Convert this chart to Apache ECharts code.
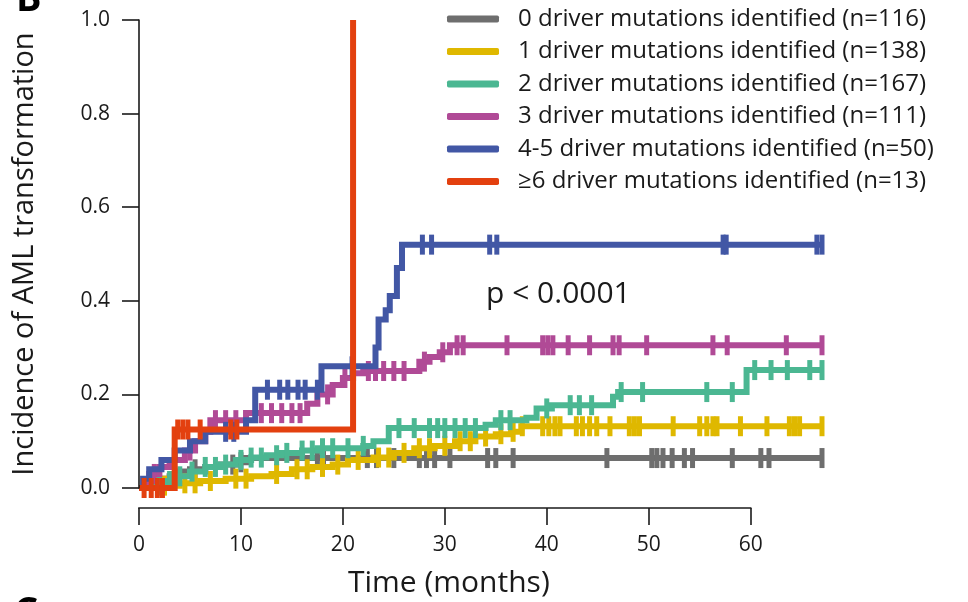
<!DOCTYPE html>
<html><head><meta charset="utf-8">
<script src="https://cdn.jsdelivr.net/npm/echarts@6/dist/echarts.min.js"></script>
<style>html,body{margin:0;padding:0;background:#fff}#c{width:968px;height:602px}</style>
</head><body><div id="c"></div>
<script>
// ---- data ----
const groupNames = [
  '0 driver mutations identified (n=116)',
  '1 driver mutations identified (n=138)',
  '2 driver mutations identified (n=167)',
  '3 driver mutations identified (n=111)',
  '4-5 driver mutations identified (n=50)',
  '\u22656 driver mutations identified (n=13)'
];
const groupColors = ['#6e6e6e', '#dfb800', '#4bb792', '#b04a96', '#4257a5', '#e3400f'];

// step times (months) and cumulative incidence after each step
const time0 = [0, 1, 2, 3, 4, 5, 6.5, 8, 9.5, 10.5, 67];
const inc0  = [0, 0.01, 0.02, 0.025, 0.035, 0.04, 0.045, 0.05, 0.055, 0.064, 0.064];
const cens0 = [5.5, 9.2, 10, 17.5, 18.1, 22.4, 23.3, 25, 27.5, 28.2, 29, 30.5, 34.2, 35, 36.7, 45.9, 50.3, 50.8, 51.4, 52.3, 53.5, 54.3, 58.2, 61, 61.8, 67];

const time1 = [0, 2, 4, 6, 8.5, 11, 13, 15, 17, 19, 20.5, 23, 25, 27, 29, 31, 33, 35, 36.5, 37.5, 67];
const inc1  = [0, 0.005, 0.01, 0.015, 0.02, 0.025, 0.03, 0.04, 0.045, 0.05, 0.06, 0.065, 0.075, 0.085, 0.09, 0.10, 0.11, 0.115, 0.12, 0.132, 0.132];
const cens1 = [2.5, 4.5, 5.5, 7, 9.5, 10.5, 13.5, 15.5, 16.5, 18, 19.5, 21.5, 23.5, 24.5, 26, 27.5, 28.5, 30, 31.5, 32.5, 34, 35.5, 36.7, 37.6, 39.6, 40.2, 40.8, 41.3, 42.9, 43.5, 44.2, 44.9, 46.2, 48.1, 48.6, 49.1, 52.4, 55, 55.7, 56.3, 56.7, 59, 61.6, 63.8, 64.3, 64.8, 67];

const time2 = [0, 1.5, 2.5, 3.5, 5, 6.5, 8, 9.5, 11, 12.5, 14, 16, 17.5, 22, 23, 24.5, 34, 35, 38, 39, 40.5, 46.5, 47, 59.6, 67];
const inc2  = [0, 0.005, 0.015, 0.025, 0.035, 0.045, 0.05, 0.06, 0.065, 0.07, 0.075, 0.08, 0.085, 0.09, 0.10, 0.128, 0.135, 0.145, 0.15, 0.17, 0.177, 0.195, 0.205, 0.252, 0.252];
const cens2 = [2, 3, 4, 5.2, 6.5, 7.5, 8.5, 10, 11, 12, 13.5, 14.5, 16, 17, 18, 19, 20.5, 22, 25.5, 27, 28.5, 29.3, 30, 31, 32, 33, 35.5, 36.4, 40, 42.3, 43.2, 44.4, 47.3, 49.4, 55.7, 58.2, 60.4, 62, 63.6, 65.8, 67];

const time3 = [0, 0.5, 1, 2, 3, 4.5, 5.5, 6.5, 7, 10.5, 16.5, 17.5, 19, 20, 21, 22, 27.5, 28.5, 29.5, 30.5, 67];
const inc3  = [0, 0.01, 0.03, 0.045, 0.06, 0.08, 0.10, 0.12, 0.145, 0.16, 0.18, 0.20, 0.22, 0.235, 0.245, 0.25, 0.27, 0.28, 0.29, 0.305, 0.305];
const cens3 = [1.5, 3.5, 5, 7.5, 8.5, 9.5, 12, 13, 14, 15, 15.8, 18.5, 20.2, 22.5, 23.2, 24, 25, 26, 28, 29.8, 31.2, 31.8, 36.1, 39.6, 40.1, 40.6, 42.1, 44.2, 46.5, 47.1, 49.8, 56.3, 57.7, 63.5, 67];

const time4 = [0, 0.4, 1, 2.2, 3.5, 5, 6.5, 10.5, 11.4, 17.9, 23.2, 23.5, 24.2, 24.6, 25.3, 25.8, 67];
const inc4  = [0, 0.02, 0.04, 0.06, 0.08, 0.10, 0.12, 0.145, 0.21, 0.26, 0.30, 0.36, 0.38, 0.41, 0.47, 0.52, 0.52];
const cens4 = [8.5, 9.3, 12.6, 13.8, 14.6, 15.6, 16.3, 17.5, 20.9, 27.8, 28.7, 34.4, 35.1, 57.3, 57.6, 66.5, 67];

const time5 = [0, 3.5, 21];
const inc5  = [0, 0.125, 1.0];
const cens5 = [0.5, 1.2, 1.8, 2.3, 3.8, 4.3, 4.8, 6.0, 9.0, 9.6];

const xTickValues = [0, 10, 20, 30, 40, 50, 60];
const yTickValues = [0, 0.2, 0.4, 0.6, 0.8, 1.0];
const xAxisTitle = 'Time (months)';
const yAxisTitle = 'Incidence of AML transformation';
const pValueText = 'p < 0.0001';

// ---- build ----
const times = [time0, time1, time2, time3, time4, time5];
const incs = [inc0, inc1, inc2, inc3, inc4, inc5];
const cens = [cens0, cens1, cens2, cens3, cens4, cens5];

function stepValue(ts, vs, t) {
  let v = vs[0];
  for (let i = 0; i < ts.length; i++) { if (ts[i] <= t) v = vs[i]; }
  return v;
}

const FONT = '"Open Sans", "DejaVu Sans", sans-serif';
const INK = '#1a1a1a';
const X_OFFSET = 20;
const series = [];
groupNames.forEach((name, g) => {
  series.push({
    name: name,
    type: 'line',
    step: 'end',
    clip: false,
    symbol: 'none',
    silent: true,
    data: times[g].map((t, i) => [t, incs[g][i]]),
    lineStyle: { color: groupColors[g], width: 6, cap: 'butt', join: 'miter' },
    itemStyle: { color: groupColors[g] },
    z: 2 + g * 0.1
  });
  series.push({
    name: 'cens' + g,
    type: 'scatter',
    clip: false,
    silent: true,
    symbol: 'rect',
    symbolSize: [5, 20],
    data: cens[g].map(t => [t, stepValue(times[g], incs[g], t)]),
    itemStyle: { color: groupColors[g], opacity: 1 },
    z: 2 + g * 0.1 + 0.05
  });
});

const chart = echarts.init(document.getElementById('c'), null, { renderer: 'canvas' });
chart.setOption({
  animation: false,
  backgroundColor: '#ffffff',
  textStyle: { fontFamily: FONT },
  grid: { left: 139, right: 146, top: 20, bottom: 114, containLabel: false },
  xAxis: {
    type: 'value', min: 0, max: 67, offset: X_OFFSET,
    z: 5,
    axisLine: { show: true, onZero: false, lineStyle: { color: INK, width: 1.6, opacity: 0 } },
    axisTick: { show: true, inside: false, length: 17, lineStyle: { color: INK, width: 1.6 }, customValues: xTickValues },
    axisLabel: { margin: 27, fontSize: 21, color: INK, fontFamily: FONT, customValues: xTickValues },
    splitLine: { show: false }
  },
  yAxis: {
    type: 'value', min: 0, max: 1, interval: 0.2,
    z: 5,
    axisLine: { show: true, onZero: false, lineStyle: { color: INK, width: 1.6 } },
    axisTick: { show: true, length: 17, lineStyle: { color: INK, width: 1.6 }, customValues: yTickValues },
    axisLabel: { margin: 29, fontSize: 21, color: INK, fontFamily: FONT, customValues: yTickValues, formatter: v => v.toFixed(1) },
    splitLine: { show: false },
    name: yAxisTitle, nameLocation: 'middle', nameGap: 100,
    nameTextStyle: { fontSize: 29, color: INK, fontFamily: FONT }
  },
  legend: {
    data: groupNames,
    orient: 'vertical',
    left: 447, top: 7,
    padding: 0,
    itemWidth: 52, itemHeight: 7, itemGap: 8.5,
    icon: 'roundRect',
    selectedMode: false,
    textStyle: { fontSize: 24, color: INK, fontFamily: FONT, padding: [0, 0, 0, 14] }
  },
  series: series
});

// x axis line spanning the labelled ticks only (R style), placed through the library's scale
const pA = chart.convertToPixel({ gridIndex: 0 }, [xTickValues[0], 0]);
const pB = chart.convertToPixel({ gridIndex: 0 }, [xTickValues[xTickValues.length - 1], 0]);
const axisY = pA[1] + X_OFFSET;
chart.setOption({
  graphic: [
    { type: 'line', z: 10, shape: { x1: pA[0] - 0.8, y1: axisY, x2: pB[0] + 0.8, y2: axisY },
      style: { stroke: INK, lineWidth: 1.6 } },
    { type: 'text', z: 10, x: (pA[0] + pB[0]) / 2 + 4, y: axisY + 60,
      style: { text: xAxisTitle, font: '30px ' + FONT, fill: INK, textAlign: 'center', textVerticalAlign: 'top' } },
    { type: 'text', left: 486, top: 279, style: { text: pValueText, font: '30px ' + FONT, fill: INK } },
    { type: 'text', x: 16, y: 19, style: { text: 'B', font: 'bold 38px ' + FONT, fill: '#000', textVerticalAlign: 'bottom' } },
    { type: 'text', x: 14, y: 594, style: { text: 'C', font: 'bold 38px ' + FONT, fill: '#000', textVerticalAlign: 'top' } }
  ]
});
</script>
</body></html>
